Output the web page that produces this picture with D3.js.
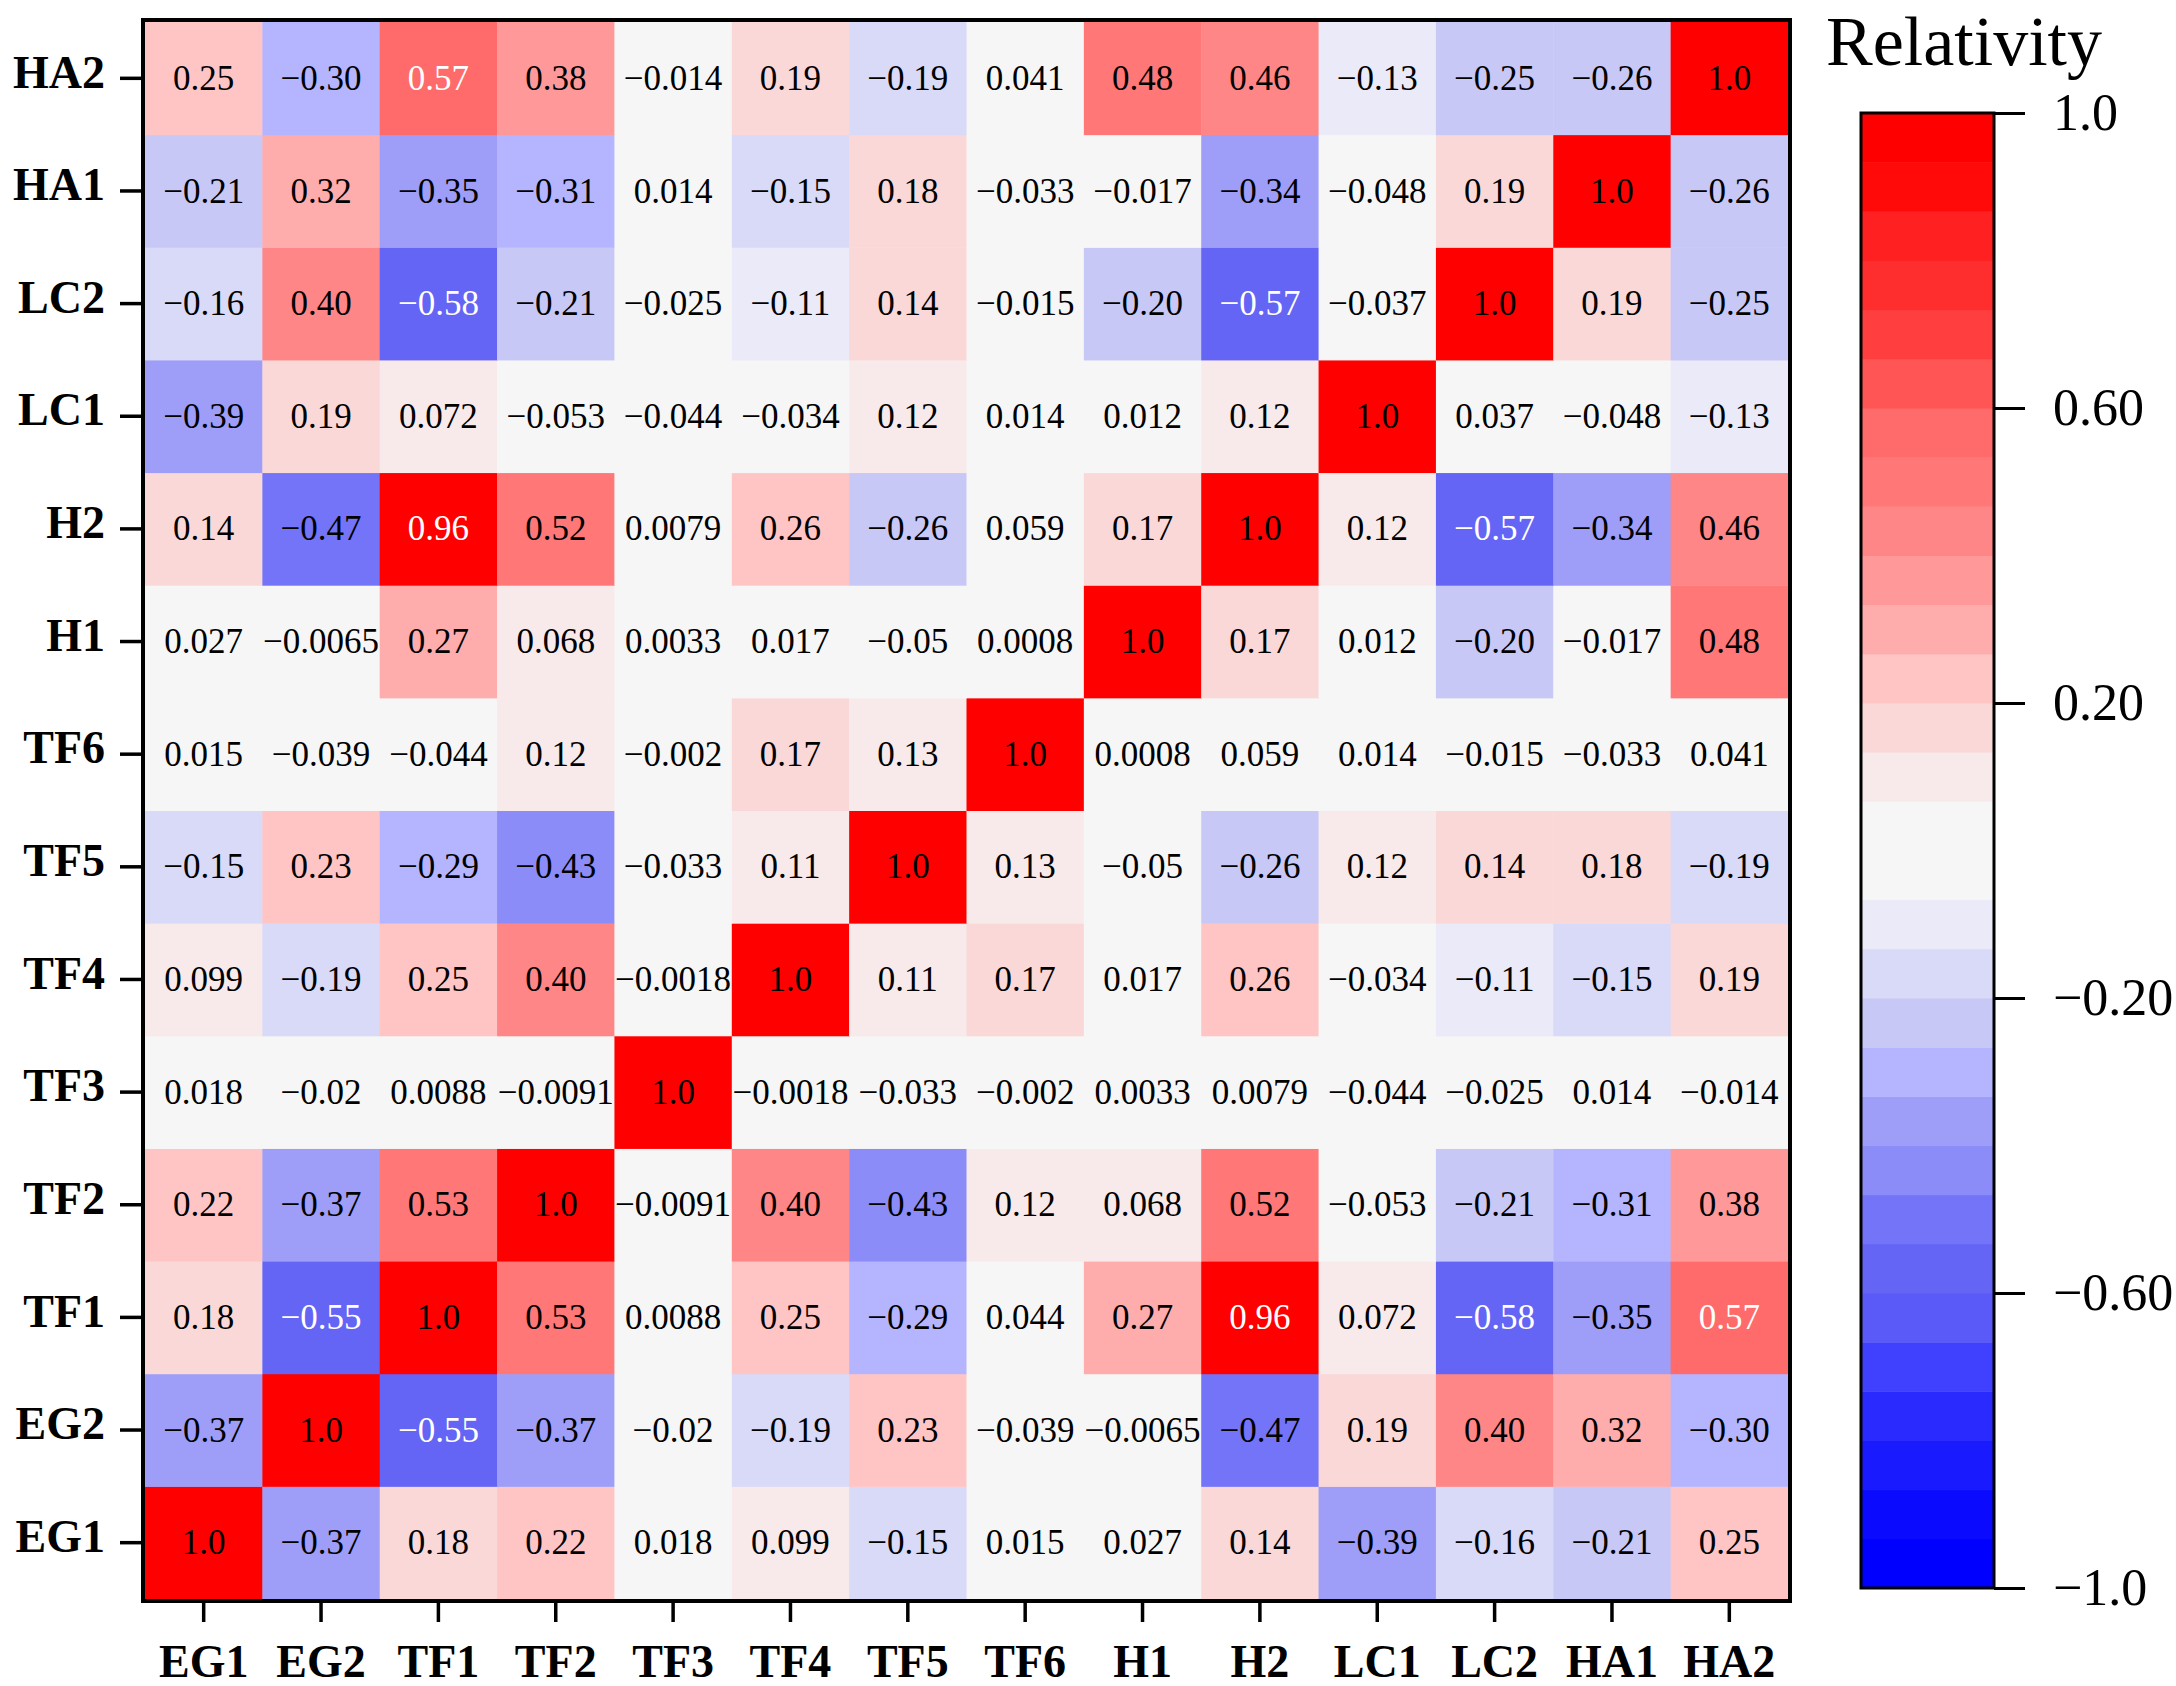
<!DOCTYPE html>
<html>
<head>
<meta charset="utf-8">
<script src="https://cdn.jsdelivr.net/npm/d3@7"></script>
<style>
  html, body { margin: 0; padding: 0; background: #fff; }
  svg { display: block; }
</style>
</head>
<body>
<div id="chart"></div>
<script>
// variables, in axis order (x left->right, y bottom->top)
const vars = ["EG1", "EG2", "TF1", "TF2", "TF3", "TF4", "TF5", "TF6", "H1", "H2", "LC1", "LC2", "HA1", "HA2"];

// one row of the correlation table per variable, values as printed in the cells
const rowEG1 = ["1.0", "-0.37", "0.18", "0.22", "0.018", "0.099", "-0.15", "0.015", "0.027", "0.14", "-0.39", "-0.16", "-0.21", "0.25"];
const rowEG2 = ["-0.37", "1.0", "-0.55", "-0.37", "-0.02", "-0.19", "0.23", "-0.039", "-0.0065", "-0.47", "0.19", "0.40", "0.32", "-0.30"];
const rowTF1 = ["0.18", "-0.55", "1.0", "0.53", "0.0088", "0.25", "-0.29", "0.044", "0.27", "0.96", "0.072", "-0.58", "-0.35", "0.57"];
const rowTF2 = ["0.22", "-0.37", "0.53", "1.0", "-0.0091", "0.40", "-0.43", "0.12", "0.068", "0.52", "-0.053", "-0.21", "-0.31", "0.38"];
const rowTF3 = ["0.018", "-0.02", "0.0088", "-0.0091", "1.0", "-0.0018", "-0.033", "-0.002", "0.0033", "0.0079", "-0.044", "-0.025", "0.014", "-0.014"];
const rowTF4 = ["0.099", "-0.19", "0.25", "0.40", "-0.0018", "1.0", "0.11", "0.17", "0.017", "0.26", "-0.034", "-0.11", "-0.15", "0.19"];
const rowTF5 = ["-0.15", "0.23", "-0.29", "-0.43", "-0.033", "0.11", "1.0", "0.13", "-0.05", "-0.26", "0.12", "0.14", "0.18", "-0.19"];
const rowTF6 = ["0.015", "-0.039", "-0.044", "0.12", "-0.002", "0.17", "0.13", "1.0", "0.0008", "0.059", "0.014", "-0.015", "-0.033", "0.041"];
const rowH1  = ["0.027", "-0.0065", "0.27", "0.068", "0.0033", "0.017", "-0.05", "0.0008", "1.0", "0.17", "0.012", "-0.20", "-0.017", "0.48"];
const rowH2  = ["0.14", "-0.47", "0.96", "0.52", "0.0079", "0.26", "-0.26", "0.059", "0.17", "1.0", "0.12", "-0.57", "-0.34", "0.46"];
const rowLC1 = ["-0.39", "0.19", "0.072", "-0.053", "-0.044", "-0.034", "0.12", "0.014", "0.012", "0.12", "1.0", "0.037", "-0.048", "-0.13"];
const rowLC2 = ["-0.16", "0.40", "-0.58", "-0.21", "-0.025", "-0.11", "0.14", "-0.015", "-0.20", "-0.57", "-0.037", "1.0", "0.19", "-0.25"];
const rowHA1 = ["-0.21", "0.32", "-0.35", "-0.31", "0.014", "-0.15", "0.18", "-0.033", "-0.017", "-0.34", "-0.048", "0.19", "1.0", "-0.26"];
const rowHA2 = ["0.25", "-0.30", "0.57", "0.38", "-0.014", "0.19", "-0.19", "0.041", "0.48", "0.46", "-0.13", "-0.25", "-0.26", "1.0"];

const rows = [rowEG1, rowEG2, rowTF1, rowTF2, rowTF3, rowTF4, rowTF5, rowTF6, rowH1, rowH2, rowLC1, rowLC2, rowHA1, rowHA2];

// colour bar ticks
const barTicks = [-1, -0.6, -0.2, 0.2, 0.6, 1];
const barTickLabels = ["-1.0", "-0.60", "-0.20", "0.20", "0.60", "1.0"];

// stepped palette, 15 steps each side of zero
const redSteps  = ["#f6f6f6", "#f8eaea", "#fad8d8", "#ffc5c5", "#ffacac", "#ff9999", "#ff8686", "#ff7777", "#ff6a6a", "#ff5555", "#ff3f3f", "#ff2e2e", "#ff2121", "#ff0909", "#ff0000"];
const blueSteps = ["#f6f6f6", "#eaeaf8", "#d9d9f8", "#c8c8f7", "#b5b5ff", "#9e9ef8", "#8c8cf9", "#7474f8", "#6464f5", "#5a5af8", "#4040ff", "#2a2aff", "#1a1aff", "#0a0aff", "#0000ff"];

(function() {
    const width = 2176;
    const height = 1686;
    const font = "'Liberation Serif', 'Times New Roman', serif";
    const minus = s => s.replace("-", "\u2212");

    const step = v => Math.min(14, Math.floor(Math.abs(v) * 15 + 1e-9));
    const color = v => v < 0 ? blueSteps[step(v)] : redSteps[step(v)];

    const x = d3.scaleBand().domain(vars).range([145, 1788]);
    const y = d3.scaleBand().domain(vars.slice().reverse()).range([22, 1599]);

    const svg = d3.select("#chart").append("svg")
        .attr("width", width)
        .attr("height", height)
        .style("background", "#fff");

    const cells = [];
    rows.forEach((r, i) => r.forEach((s, j) => {
        cells.push({row: vars[i], col: vars[j], text: s, v: +s});
    }));

    const g = svg.append("g");

    g.selectAll("rect.cell")
        .data(cells)
        .join("rect")
        .attr("class", "cell")
        .attr("x", d => x(d.col))
        .attr("y", d => y(d.row))
        .attr("width", x.bandwidth() + 0.5)
        .attr("height", y.bandwidth() + 0.5)
        .attr("fill", d => color(d.v));

    g.selectAll("text.val")
        .data(cells)
        .join("text")
        .attr("class", "val")
        .attr("x", d => x(d.col) + x.bandwidth() / 2)
        .attr("y", d => y(d.row) + y.bandwidth() / 2)
        .attr("dy", "0.33em")
        .attr("text-anchor", "middle")
        .attr("font-family", font)
        .attr("font-size", 35)
        .attr("fill", d => (Math.abs(d.v) >= 0.55 && Math.abs(d.v) < 1) ? "#fff" : "#000")
        .text(d => minus(d.text));

    // frame
    svg.append("rect")
        .attr("x", 143).attr("y", 20)
        .attr("width", 1788 - 145 + 4).attr("height", 1599 - 22 + 4)
        .attr("fill", "none").attr("stroke", "#000").attr("stroke-width", 4);

    // axes
    const yAxis = svg.append("g")
        .attr("transform", "translate(141,0)")
        .call(d3.axisLeft(y).tickSize(21).tickPadding(15).tickSizeOuter(0));
    const xAxis = svg.append("g")
        .attr("transform", "translate(0,1601)")
        .call(d3.axisBottom(x).tickSize(21).tickPadding(16).tickSizeOuter(0));

    [yAxis, xAxis].forEach(a => {
        a.select(".domain").remove();
        a.selectAll(".tick line").attr("stroke", "#000").attr("stroke-width", 3.5);
        a.selectAll(".tick text")
            .attr("font-family", font)
            .attr("font-weight", "bold")
            .attr("font-size", 46)
            .attr("fill", "#000");
    });
    yAxis.selectAll(".tick text").attr("dy", "0.2em");
    xAxis.selectAll(".tick text").attr("dy", "0.85em");

    // colour bar
    const cb = d3.scaleLinear().domain([-1, 1]).range([1588, 113]);
    const bands = d3.range(30).map(i => ({lo: -1 + i * 2 / 30, hi: -1 + (i + 1) * 2 / 30, i: i}));

    svg.append("g").selectAll("rect")
        .data(bands)
        .join("rect")
        .attr("x", 1861)
        .attr("y", d => cb(d.hi))
        .attr("width", 133)
        .attr("height", d => cb(d.lo) - cb(d.hi) + 0.5)
        .attr("fill", d => d.i < 15 ? blueSteps[14 - d.i] : redSteps[d.i - 15]);

    svg.append("rect")
        .attr("x", 1861).attr("y", 113)
        .attr("width", 133).attr("height", 1588 - 113)
        .attr("fill", "none").attr("stroke", "#000").attr("stroke-width", 3);

    const cbAxis = svg.append("g")
        .attr("transform", "translate(1994,0)")
        .call(d3.axisRight(cb).tickValues(barTicks)
            .tickFormat((d, i) => minus(barTickLabels[i]))
            .tickSize(31).tickPadding(28).tickSizeOuter(0));
    cbAxis.select(".domain").remove();
    cbAxis.selectAll(".tick line").attr("stroke", "#000").attr("stroke-width", 3);
    cbAxis.selectAll(".tick text")
        .attr("font-family", font)
        .attr("font-size", 52)
        .attr("fill", "#000");

    svg.append("text")
        .attr("x", 1826)
        .attr("y", 65)
        .attr("font-family", font)
        .attr("font-size", 70)
        .attr("fill", "#000")
        .text("Relativity");
}());
</script>
</body>
</html>
